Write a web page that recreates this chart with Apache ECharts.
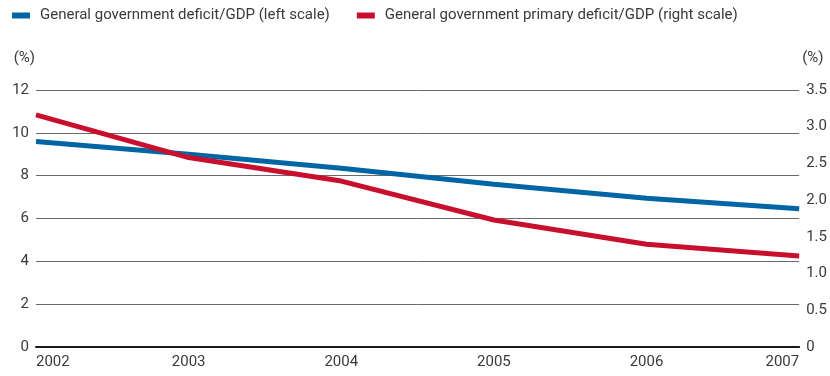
<!DOCTYPE html>
<html>
<head>
<meta charset="utf-8">
<script src="https://cdn.jsdelivr.net/npm/echarts@6/dist/echarts.min.js"></script>
<style>
  html, body { margin: 0; padding: 0; background: #fff; }
  #chart { width: 830px; height: 376px; }
</style>
</head>
<body>
<div id="chart"></div>
<script>
// Years on the category axis
const years = ['2002', '2003', '2004', '2005', '2006', '2007'];
// General government deficit as % of GDP (left scale)
const deficit = [9.6, 9.0, 8.35, 7.6, 6.95, 6.45];
// General government primary deficit as % of GDP (right scale)
const primaryDeficit = [3.16, 2.58, 2.26, 1.73, 1.40, 1.24];

const seriesNames = [
  'General government deficit/GDP (left scale)',
  'General government primary deficit/GDP (right scale)'
];

const FONT = '"Roboto", "Liberation Sans", sans-serif';
const TEXT = '#3a3a3a';

const chart = echarts.init(document.getElementById('chart'), null, { renderer: 'canvas' });

chart.setOption({
  animation: false,
  textStyle: { fontFamily: FONT },
  legend: {
    left: 12,
    top: 8,
    padding: 0,
    itemWidth: 18,
    itemHeight: 6,
    itemGap: 27,
    icon: 'rect',
    textStyle: { fontFamily: FONT, fontSize: 15, color: TEXT, padding: [0, 0, 0, 5] },
    data: seriesNames
  },
  grid: { left: 36, right: 27, top: 90, bottom: 29, containLabel: false },
  xAxis: {
    type: 'category',
    data: years,
    boundaryGap: false,
    axisLine: { lineStyle: { color: '#1a1a1a', width: 2 } },
    axisTick: { show: false },
    axisLabel: {
      color: TEXT, fontFamily: FONT, fontSize: 15, margin: 8,
      alignMinLabel: 'left', alignMaxLabel: 'right'
    }
  },
  yAxis: [
    {
      type: 'value', min: 0, max: 12, interval: 2,
      name: '(%)', nameLocation: 'end', nameGap: 24,
      nameTextStyle: { color: TEXT, fontFamily: FONT, fontSize: 15, align: 'right', padding: [0, 1, 0, 0] },
      axisLine: { show: false }, axisTick: { show: false },
      axisLabel: { color: TEXT, fontFamily: FONT, fontSize: 15, margin: 7 },
      splitLine: { lineStyle: { color: '#6a6a6a', width: 1 } }
    },
    {
      type: 'value', min: 0, max: 3.5, interval: 0.5,
      name: '(%)', nameLocation: 'end', nameGap: 24,
      nameTextStyle: { color: TEXT, fontFamily: FONT, fontSize: 15, align: 'left', padding: [0, 0, 0, 3] },
      axisLine: { show: false }, axisTick: { show: false },
      axisLabel: {
        color: TEXT, fontFamily: FONT, fontSize: 15, margin: 7,
        formatter: v => (v === 0 ? '0' : v.toFixed(1))
      },
      splitLine: { show: false }
    }
  ],
  series: [
    {
      name: seriesNames[0], type: 'line', yAxisIndex: 0,
      data: deficit, symbol: 'none',
      lineStyle: { color: '#0065a4', width: 5 },
      itemStyle: { color: '#0065a4' }
    },
    {
      name: seriesNames[1], type: 'line', yAxisIndex: 1,
      data: primaryDeficit, symbol: 'none',
      lineStyle: { color: '#c8102e', width: 5 },
      itemStyle: { color: '#c8102e' }
    }
  ]
});
</script>
</body>
</html>
